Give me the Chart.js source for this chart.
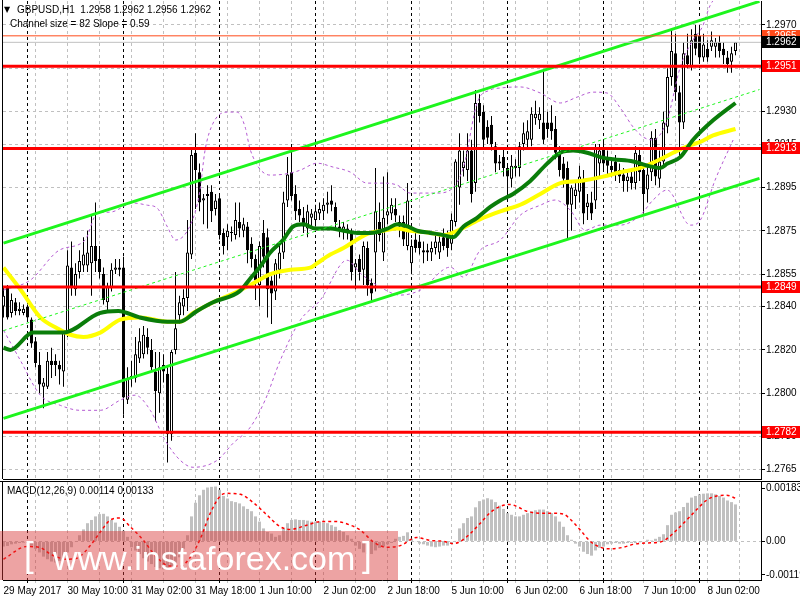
<!DOCTYPE html>
<html><head><meta charset="utf-8">
<script src="https://cdn.jsdelivr.net/npm/chart.js@4.4.1/dist/chart.umd.min.js"></script>
<style>
html,body{margin:0;padding:0;background:#fff;}
#wrap{position:relative;width:800px;height:600px;overflow:hidden;background:#fff;font-family:'Liberation Sans',Arial,sans-serif;}
canvas{position:absolute;left:0;}
#main{top:0;}
#macd{top:480px;}
.t{position:absolute;font-size:10px;color:#000;white-space:pre;line-height:12px;}
#wm{position:absolute;left:0;top:531px;width:398px;height:49px;background:rgba(215,50,50,0.45);color:#fff;}
#wm span{position:absolute;white-space:pre;}
</style></head><body>
<div id="wrap">
<canvas id="main" width="800" height="480"></canvas>
<canvas id="macd" width="800" height="120"></canvas>
<div class="t" style="left:4px;top:4px;font-size:8px;font-family:'DejaVu Sans'">▼</div>
<div class="t" style="left:17px;top:4px">GBPUSD,H1  1.2958 1.2962 1.2956 1.2962</div>
<div class="t" style="left:10px;top:18px">Channel size = 82 Slope = 0.59</div>
<div class="t" style="left:7px;top:485px">MACD(12,26,9) 0.00114 0.00133</div>
<div id="wm">
  <span style="left:24px;top:6px;font-size:35px;line-height:35px">[</span>
  <span style="left:53px;top:10px;font-size:34px;line-height:34px">www.instaforex.com</span>
  <span style="left:362px;top:6px;font-size:35px;line-height:35px">]</span>
</div>
</div>
<script>
// ---------- DATA ----------
const opens = [
1.2840,1.2849,1.2837,1.2842,1.2838,1.2837,1.2840,1.2834,1.2824,1.2813,
1.2803,1.2803,1.2815,1.2815,1.2813,1.2810,1.2827,1.2858,1.2848,1.2856,
1.2859,1.2859,1.2860,1.2868,1.2862,1.2855,1.2842,1.2849,1.2857,1.2858,
1.2858,1.2797,1.2807,1.2807,1.2816,1.2818,1.2826,1.2820,1.2810,1.2800,
1.2813,1.2809,1.2781,1.2820,1.2836,1.2840,1.2844,1.2864,1.2911,1.2902,
1.2889,1.2891,1.2893,1.2885,1.2890,1.2874,1.2872,1.2874,1.2873,1.2879,
1.2875,1.2877,1.2869,1.2862,1.2850,1.2874,1.2872,1.2852,1.2847,1.2857,
1.2865,1.2889,1.2902,1.2892,1.2885,1.2881,1.2876,1.2881,1.2880,1.2883,
1.2884,1.2887,1.2889,1.2886,1.2877,1.2875,1.2876,1.2874,1.2858,1.2862,
1.2857,1.2867,1.2851,1.2865,1.2879,1.2865,1.2882,1.2883,1.2885,1.2877,
1.2879,1.2868,1.2860,1.2871,1.2870,1.2866,1.2866,1.2865,1.2867,1.2865,
1.2872,1.2872,1.2869,1.2879,1.2895,1.2904,1.2903,1.2912,1.2897,1.2934,
1.2930,1.2923,1.2924,1.2914,1.2906,1.2909,1.2904,1.2899,1.2904,1.2904,
1.2915,1.2917,1.2917,1.2927,1.2926,1.2925,1.2925,1.2925,1.2922,1.2911,
1.2906,1.2904,1.2887,1.2891,1.2893,1.2898,1.2886,1.2888,1.2889,1.2906,
1.2913,1.2908,1.2905,1.2907,1.2903,1.2901,1.2898,1.2900,1.2897,1.2910,
1.2903,1.2894,1.2902,1.2918,1.2899,1.2907,1.2923,1.2946,1.2957,1.2939,
1.2925,1.2956,1.2951,1.2966,1.2965,1.2955,1.2959,1.2960,1.2960,1.2962,
1.2959,1.2955,1.2953,1.2958];
const highs = [
1.2849,1.2850,1.2846,1.2844,1.2842,1.2841,1.2841,1.2835,1.2826,1.2819,
1.2807,1.2819,1.2821,1.2818,1.2815,1.2829,1.2866,1.2870,1.2860,1.2866,
1.2872,1.2875,1.2882,1.2888,1.2868,1.2858,1.2851,1.2860,1.2862,1.2862,
1.2863,1.2812,1.2815,1.2826,1.2830,1.2831,1.2830,1.2825,1.2819,1.2819,
1.2818,1.2812,1.2820,1.2856,1.2845,1.2848,1.2880,1.2913,1.2920,1.2906,
1.2892,1.2896,1.2896,1.2892,1.2891,1.2876,1.2878,1.2877,1.2888,1.2888,
1.2881,1.2879,1.2872,1.2864,1.2870,1.2880,1.2876,1.2854,1.2862,1.2868,
1.2893,1.2909,1.2915,1.2896,1.2889,1.2886,1.2887,1.2885,1.2887,1.2888,
1.2890,1.2893,1.2896,1.2888,1.2880,1.2879,1.2878,1.2876,1.2862,1.2864,
1.2870,1.2870,1.2853,1.2904,1.2888,1.2900,1.2902,1.2890,1.2890,1.2882,
1.2882,1.2897,1.2871,1.2875,1.2873,1.2870,1.2869,1.2870,1.2873,1.2874,
1.2876,1.2875,1.2883,1.2908,1.2920,1.2912,1.2920,1.2917,1.2940,1.2938,
1.2933,1.2926,1.2928,1.2916,1.2910,1.2913,1.2906,1.2910,1.2908,1.2916,
1.2925,1.2926,1.2932,1.2935,1.2932,1.2949,1.2930,1.2933,1.2928,1.2914,
1.2909,1.2907,1.2896,1.2897,1.2905,1.2903,1.2892,1.2893,1.2915,1.2915,
1.2916,1.2912,1.2908,1.2910,1.2906,1.2904,1.2902,1.2903,1.2914,1.2913,
1.2906,1.2905,1.2921,1.2922,1.2912,1.2930,1.2950,1.2968,1.2966,1.2942,
1.2962,1.2966,1.2968,1.2970,1.2969,1.2966,1.2963,1.2967,1.2964,1.2965,
1.2962,1.2958,1.2960,1.2962];
const lows = [
1.2835,1.2834,1.2835,1.2836,1.2836,1.2836,1.2833,1.2821,1.2812,1.2800,
1.2793,1.2802,1.2807,1.2808,1.2804,1.2803,1.2826,1.2845,1.2845,1.2853,
1.2856,1.2856,1.2845,1.2856,1.2853,1.2841,1.2838,1.2847,1.2855,1.2854,
1.2790,1.2795,1.2803,1.2805,1.2814,1.2816,1.2818,1.2810,1.2787,1.2791,
1.2805,1.2768,1.2778,1.2818,1.2832,1.2836,1.2838,1.2862,1.2885,1.2884,
1.2878,1.2876,1.2879,1.2882,1.2871,1.2864,1.2866,1.2870,1.2871,1.2872,
1.2872,1.2860,1.2858,1.2843,1.2840,1.2858,1.2835,1.2832,1.2843,1.2853,
1.2862,1.2886,1.2889,1.2880,1.2879,1.2874,1.2872,1.2877,1.2877,1.2880,
1.2880,1.2883,1.2884,1.2876,1.2872,1.2871,1.2871,1.2852,1.2848,1.2852,
1.2850,1.2845,1.2842,1.2847,1.2870,1.2861,1.2878,1.2880,1.2879,1.2872,
1.2868,1.2866,1.2856,1.2865,1.2864,1.2860,1.2861,1.2861,1.2864,1.2862,
1.2866,1.2863,1.2866,1.2877,1.2887,1.2900,1.2898,1.2888,1.2893,1.2925,
1.2913,1.2915,1.2912,1.2902,1.2903,1.2900,1.2892,1.2895,1.2900,1.2900,
1.2912,1.2913,1.2914,1.2924,1.2922,1.2915,1.2918,1.2917,1.2908,1.2900,
1.2895,1.2871,1.2875,1.2885,1.2888,1.2878,1.2880,1.2880,1.2885,1.2900,
1.2903,1.2900,1.2900,1.2898,1.2897,1.2893,1.2893,1.2894,1.2894,1.2898,
1.2883,1.2888,1.2898,1.2896,1.2895,1.2904,1.2920,1.2942,1.2935,1.2908,
1.2922,1.2950,1.2949,1.2956,1.2952,1.2953,1.2953,1.2958,1.2955,1.2955,
1.2952,1.2948,1.2948,1.2956];
const closes = [
1.2845,1.2835,1.2843,1.2838,1.2839,1.2839,1.2835,1.2823,1.2814,1.2804,
1.2805,1.2815,1.2813,1.2813,1.2811,1.2828,1.2859,1.2849,1.2855,1.2861,
1.2864,1.2865,1.2868,1.2861,1.2856,1.2843,1.2849,1.2857,1.2858,1.2857,
1.2798,1.2807,1.2808,1.2818,1.2824,1.2827,1.2821,1.2812,1.2801,1.2812,
1.2810,1.2781,1.2819,1.2830,1.2842,1.2844,1.2865,1.2910,1.2903,1.2888,
1.2890,1.2892,1.2884,1.2889,1.2873,1.2868,1.2875,1.2874,1.2880,1.2876,
1.2878,1.2866,1.2862,1.2852,1.2868,1.2863,1.2848,1.2846,1.2860,1.2865,
1.2888,1.2901,1.2891,1.2884,1.2882,1.2877,1.2884,1.2883,1.2884,1.2885,
1.2887,1.2888,1.2887,1.2879,1.2875,1.2877,1.2874,1.2856,1.2860,1.2856,
1.2868,1.2850,1.2846,1.2884,1.2873,1.2881,1.2884,1.2887,1.2882,1.2879,
1.2871,1.2889,1.2868,1.2867,1.2867,1.2865,1.2865,1.2867,1.2870,1.2870,
1.2868,1.2867,1.2880,1.2907,1.2912,1.2907,1.2912,1.2892,1.2934,1.2928,
1.2917,1.2918,1.2915,1.2906,1.2907,1.2904,1.2900,1.2905,1.2905,1.2914,
1.2920,1.2921,1.2929,1.2929,1.2929,1.2917,1.2922,1.2921,1.2911,1.2903,
1.2899,1.2887,1.2895,1.2894,1.2900,1.2883,1.2888,1.2883,1.2913,1.2912,
1.2906,1.2905,1.2903,1.2902,1.2900,1.2898,1.2900,1.2897,1.2911,1.2902,
1.2892,1.2901,1.2918,1.2900,1.2907,1.2925,1.2946,1.2958,1.2939,1.2925,
1.2957,1.2952,1.2963,1.2959,1.2955,1.2961,1.2955,1.2963,1.2962,1.2958,
1.2956,1.2952,1.2957,1.2962];

// moving averages [barIndex, price]
const maGreen = [[0,1.2821],[1.7,1.2820],[7.4,1.2828],[15,1.2828],[24,1.2837],[28.7,1.2838],[34,1.2835],[41,1.2833],[44,1.2833],[48.4,1.2838],[52.4,1.2842],[59,1.2847],[61.7,1.2853],[64,1.2858],[66.7,1.2865],[70,1.2871],[72.4,1.2877],[75,1.2878],[78,1.2876],[81.7,1.2876],[85,1.2875],[88.4,1.2874],[91.7,1.2874],[96,1.2876],[98.4,1.2878],[101,1.2877],[103.4,1.2875],[106.7,1.2874],[110,1.2873],[112.4,1.2872],[115,1.2877],[118.4,1.2881],[121.7,1.2886],[124.2,1.2889],[127.4,1.2892],[131.7,1.2898],[135.9,1.2906],[139.2,1.2911],[142.4,1.2912],[145.9,1.2911],[149.2,1.2909],[152.4,1.2908],[157.4,1.2907],[161,1.2905],[164.2,1.2904],[166,1.2906],[169.2,1.2909],[172.4,1.2917],[177.4,1.2926],[183,1.2934]];
const maYellow = [[0,1.2858],[4.2,1.2848],[9.2,1.2835],[13.4,1.2830],[16.7,1.2827],[20,1.2826],[24.2,1.2828],[29.2,1.2834],[34.2,1.2835],[41,1.2833],[44.2,1.2833],[47.4,1.2837],[52.4,1.2842],[57.4,1.2846],[61.7,1.2850],[66.7,1.2855],[71.7,1.2857],[76.7,1.2858],[78.4,1.2860],[81.7,1.2864],[85,1.2867],[88.4,1.2871],[91.7,1.2874],[95,1.2875],[98.4,1.2876],[101.7,1.2875],[106.7,1.2874],[110,1.2873],[113.4,1.2875],[116.7,1.2878],[120,1.2881],[124.2,1.2884],[129.2,1.2887],[134.2,1.2892],[139.2,1.2897],[144.2,1.2898],[149.9,1.2900],[154.2,1.2902],[159.2,1.2904],[164.2,1.2908],[167.4,1.2911],[170.9,1.2914],[174.2,1.2916],[177.4,1.2919],[183,1.2922]];
// band lines [barIndex, price]
const bandUpper = [[0,1.28476],[6.7,1.28522],[14,1.28661],[20.4,1.28707],[23.4,1.28831],[26.7,1.28836],[32.4,1.28878],[36,1.28868],[38.4,1.28855],[41,1.28767],[43,1.28707],[46.7,1.28776],[49,1.28924],[50.4,1.29123],[52.4,1.29247],[56,1.29298],[58.4,1.29298],[60.4,1.29229],[61.7,1.29123],[66.7,1.29007],[71.7,1.29016],[74.2,1.29030],[78.4,1.29062],[82.4,1.29044],[86.7,1.29021],[90.9,1.28970],[94.9,1.28970],[98.4,1.28961],[101.7,1.28924],[108.4,1.28924],[111.7,1.28938],[115,1.29044],[118.4,1.29340],[121.7,1.29400],[124.2,1.29409],[129.2,1.29414],[134.2,1.29386],[139.2,1.29340],[143.4,1.29367],[147.4,1.29390],[150.9,1.29386],[154.2,1.29317],[157.4,1.29229],[159.9,1.29183],[162.4,1.29169],[165.9,1.29261],[169.2,1.29506],[172.4,1.29631],[174.7,1.29691],[176.7,1.29792],[183.2,1.29908]];
const bandLower = [[0,1.28291],[4.2,1.28152],[9.2,1.27991],[14.2,1.27944],[19.2,1.27921],[24.2,1.27921],[29.2,1.27968],[32.9,1.27991],[36.7,1.27921],[40.4,1.27783],[44.2,1.27690],[47.4,1.27658],[53.4,1.27690],[57.4,1.27769],[61.7,1.27843],[65.4,1.27968],[69.2,1.28152],[74.2,1.28337],[79.2,1.28430],[85.9,1.28614],[89.2,1.28554],[93.4,1.28499],[99.2,1.28453],[104.2,1.28476],[111.7,1.28582],[115,1.28536],[119.2,1.28661],[124.2,1.28707],[129.2,1.28822],[134.2,1.28868],[137.9,1.28892],[141.7,1.28845],[145.4,1.28753],[149.2,1.28776],[154.2,1.28776],[159.2,1.28822],[162.4,1.28892],[165.9,1.28938],[171.7,1.28776],[174.2,1.28799],[177.9,1.28984],[182.4,1.29169]];
// regression channel [barIndex, price]
const channelUpper = [[0,1.28693],[189,1.29809]];
const channelMid   = [[0,1.28289],[189,1.29402]];
const channelLower = [[0,1.27884],[189,1.28992]];
const levelLines = [1.2951, 1.2913, 1.2849, 1.2782];
const askLevel = 1.2965;
const bidLevel = 1.2962;
const priceTicks = [1.2970,1.2950,1.2930,1.2915,1.2895,1.2875,1.2855,1.2840,1.2820,1.2800,1.2780,1.2765];

const macdHist = [
-0.00016,-0.00014,-0.00009,-0.00007,-0.00005,-0.00004,-0.00005,-0.00013,-0.00023,-0.00034,
-0.00047,-0.00055,-0.00062,-0.00065,-0.0006,-0.00052,-0.00034,-0.00018,-0.00002,0.00019,
0.00037,0.00056,0.00066,0.00077,0.00084,0.00085,0.00077,0.00066,0.00058,0.00045,
0.00033,0.00014,-0.00018,-0.00028,-0.00039,-0.00052,-0.00062,-0.0007,-0.00079,-0.00083,
-0.00086,-0.00081,-0.00076,-0.00065,-0.00049,-0.00023,0.00019,0.00077,0.00119,0.00142,
0.00159,0.00166,0.00168,0.00169,0.00159,0.0014,0.00132,0.00124,0.00121,0.00117,
0.00108,0.001,0.00093,0.00077,0.00061,0.0004,0.00029,0.00024,0.00014,0.00019,
0.0004,0.00056,0.00066,0.00068,0.00066,0.00066,0.00064,0.00061,0.00061,0.00061,
0.00058,0.00056,0.0005,0.00045,0.00035,0.00029,0.00019,0.00008,-0.00013,-0.00023,
-0.00034,-0.00039,-0.00039,-0.00028,-0.0002,-0.00016,-0.00009,-0.00005,0.00008,0.00014,
0.00017,0.00028,0.00008,-0.00002,-0.00007,-0.00009,-0.00013,-0.00016,-0.00018,-0.00016,
-0.00013,-0.00013,-0.00007,0.00001,0.0004,0.00056,0.00072,0.00077,0.00105,0.00124,
0.00129,0.00133,0.00129,0.00121,0.0011,0.001,0.00087,0.00082,0.00077,0.00077,
0.00082,0.00087,0.00093,0.00096,0.00098,0.00098,0.00093,0.00087,0.00077,0.00061,
0.00045,0.00019,0.00005,-0.00007,-0.00016,-0.00032,-0.00039,-0.00044,-0.00028,-0.0002,
-0.00016,-0.00009,-0.00007,-0.00005,-0.00007,-0.00007,-0.00005,-0.00005,-0.00005,-0.00003,
-0.00002,0.00005,0.00003,0.00008,0.00014,0.00022,0.0005,0.00082,0.00089,0.00093,
0.00106,0.00119,0.00135,0.0014,0.00145,0.00147,0.00148,0.00148,0.00145,0.0014,
0.00135,0.00126,0.00121,0.00114];
const macdSignal = [[0,-0.00055],[5.8,-0.00016],[9,-0.00018],[11.7,-0.00039],[15.8,-0.00055],[18.3,-0.00052],[21.7,-0.00013],[24.2,0.00029],[26.7,0.00066],[29.2,0.00072],[31.7,0.00045],[35,0.00003],[38.3,-0.00049],[41.7,-0.00076],[44.2,-0.00076],[46.7,-0.00049],[49.2,0.00008],[51.7,0.00087],[54.2,0.0014],[55.8,0.00148],[59.2,0.00145],[62.5,0.00119],[65.8,0.00082],[69.2,0.00045],[71.7,0.00037],[75.8,0.0005],[79.2,0.00061],[83.3,0.00061],[86.7,0.0005],[89.2,0.00035],[92.5,-0.00002],[95.8,-0.00018],[99.2,-0.00013],[103.3,0.00012],[106.7,0.00003],[110,0],[112.5,-0.00007],[114.2,0],[116.7,0.00024],[119.2,0.00056],[121.7,0.00089],[124.2,0.00108],[126.7,0.00114],[128.3,0.00108],[130.8,0.00093],[134.2,0.00087],[137.5,0.00087],[140,0.00084],[141.7,0.00068],[144.2,0.00035],[146.7,0],[149.2,-0.00018],[151.7,-0.00023],[155,-0.00018],[157.5,-0.00009],[160.8,-0.00005],[164.2,-0.00002],[165.8,0.00008],[168.3,0.00035],[170.8,0.00066],[173.3,0.00098],[175.8,0.00127],[178.3,0.0014],[180.8,0.00142],[183,0.00133]];
const macdMax = 0.00183, macdMin = -0.00119;
const macdTickLabels = ['0.00183','0.00','-0.00119'];

const timeLabelIdx = [0,16,32,48,64,80,96,112,128,144,160,176];
const timeLabels = ['29 May 2017','30 May 10:00','31 May 02:00','31 May 18:00','1 Jun 10:00','2 Jun 02:00','2 Jun 18:00','5 Jun 10:00','6 Jun 02:00','6 Jun 18:00','7 Jun 10:00','8 Jun 02:00'];
const daySeparators = [6,30,54,78,102,126,150,174];
const gridStep = 8;

// ---------- HELPERS ----------
const X_MIN = -0.125, X_MAX = 189.375;
const Y_MIN = 1.276039, Y_MAX = 1.298108;
Chart.defaults.font.family = "'Liberation Sans', Arial, sans-serif";
Chart.defaults.font.size = 10;
Chart.defaults.color = '#000';

function pts(arr){ return arr.map(p => ({x:p[0], y:p[1]})); }
function noPad(s){ s.paddingTop = 0; s.paddingBottom = 0; s.paddingLeft = 0; s.paddingRight = 0; }
function xTickList(){
  const s = new Set();
  for (let i = gridStep; i <= X_MAX; i += gridStep) s.add(i);
  daySeparators.forEach(d => s.add(d));
  timeLabelIdx.forEach(d => s.add(d));
  return [...s].sort((a,b)=>a-b).map(v => ({value:v}));
}
function vGridColor(ctx){
  const v = ctx.tick ? ctx.tick.value : -1;
  if (daySeparators.includes(v)) return '#000';
  if (v === 0) return 'rgba(0,0,0,0)';
  return '#c0c0c0';
}
const labelMap = {};
timeLabelIdx.forEach((v,i)=> labelMap[v] = timeLabels[i]);

const lineDs = (data, color, width, dash, order, extra) => Object.assign({
  type:'line', data: pts(data), borderColor: color, borderWidth: width, borderDash: dash || [],
  pointRadius: 0, fill: false, order: order, cubicInterpolationMode: 'monotone'
}, extra || {});

const bodyData = opens.map((o,i) => {
  let c = closes[i];
  if (Math.abs(c - o) < 0.00004) c = o + 0.00004;
  return {x:i, y:[o, c]};
});
const bodyColors = opens.map((o,i) => closes[i] >= o ? '#ffffff' : '#000000');
const wickData = highs.map((h,i) => ({x:i, y:[lows[i], h]}));

const mainDatasets = [
  {type:'bar', data: wickData, backgroundColor:'#000', borderWidth:0, barThickness:1, grouped:false, inflateAmount:0, order:21},
  {type:'bar', data: bodyData, backgroundColor: bodyColors, borderColor:'#000', borderWidth:1, borderSkipped:false, barThickness:3, grouped:false, inflateAmount:0, order:20},
  lineDs(bandUpper, '#b45ad2', 1, [3,3], 15),
  lineDs(bandLower, '#b45ad2', 1, [3,3], 15),
  lineDs(maYellow, '#ffff00', 4, [], 12),
  lineDs(maGreen, '#0a7d0a', 4, [], 11),
  lineDs(channelMid, '#1df51d', 1, [3,3], 10),
  lineDs(channelUpper, '#1df51d', 3, [], 9),
  lineDs(channelLower, '#1df51d', 3, [], 9),
  lineDs([[X_MIN,bidLevel],[X_MAX,bidLevel]], '#c0c0c0', 1, [], 8),
  lineDs([[X_MIN,askLevel],[X_MAX,askLevel]], '#ff4a1a', 1, [], 7),
];
levelLines.forEach(v => mainDatasets.push(lineDs([[X_MIN,v],[X_MAX,v]], '#ff0000', 3, [], 5)));

const mainDecor = {
  id:'mainDecor',
  afterDraw(chart){
    const {ctx, chartArea:a, scales:{y}} = chart;
    ctx.save();
    ctx.strokeStyle = '#000'; ctx.lineWidth = 1;
    ctx.beginPath(); ctx.moveTo(a.left - 0.5, 0); ctx.lineTo(a.left - 0.5, a.bottom); ctx.stroke();
    ctx.font = "10px 'Liberation Sans', Arial, sans-serif";
    ctx.textBaseline = 'middle'; ctx.textAlign = 'left';
    const boxes = [[askLevel,'#ff4a1a','#fff'],[bidLevel,'#000','#fff']].concat(levelLines.map(v => [v,'#ff0000','#fff']));
    boxes.forEach(([v,bg,fg]) => {
      const py = Math.round(y.getPixelForValue(v));
      ctx.fillStyle = bg; ctx.fillRect(a.right + 1, py - 6, 38, 12);
      ctx.fillStyle = fg; ctx.fillText(v.toFixed(4), a.right + 5, py + 0.5);
    });
    ctx.restore();
  }
};

new Chart(document.getElementById('main'), {
  type:'bar',
  data:{datasets: mainDatasets},
  options:{
    responsive:false, animation:false, devicePixelRatio:1, events:[],
    layout:{padding:{left:3, top:1, right:0, bottom:1}},
    plugins:{legend:{display:false}, tooltip:{enabled:false}},
    scales:{
      x:{type:'linear', min:X_MIN, max:X_MAX, offset:false,
         afterBuildTicks: s => { s.ticks = xTickList(); },
         afterFit: s => { s.height = 0; noPad(s); },
         ticks:{display:false},
         grid:{color: vGridColor, offset:false, drawTicks:false, lineWidth:1},
         border:{display:true, color:'#000', width:1, dash:[3,3]}},
      y:{position:'right', min:Y_MIN, max:Y_MAX,
         afterBuildTicks: s => { s.ticks = priceTicks.map(v => ({value:v})); },
         afterFit: s => { s.width = 39; noPad(s); },
         ticks:{callback: v => Number(v).toFixed(4), padding:1, font:{size:10}, color:'#000'},
         grid:{color:'#c0c0c0', tickColor:'#000', tickLength:4, drawTicks:true},
         border:{display:true, color:'#000', width:1, dash:[3,3]}}
    }
  },
  plugins:[mainDecor]
});

const macdDecor = {
  id:'macdDecor',
  afterDraw(chart){
    const {ctx, chartArea:a} = chart;
    ctx.save();
    ctx.strokeStyle = '#000'; ctx.lineWidth = 1;
    ctx.beginPath();
    ctx.moveTo(0, a.top - 0.5); ctx.lineTo(800, a.top - 0.5);
    ctx.moveTo(a.left - 0.5, a.top); ctx.lineTo(a.left - 0.5, a.bottom);
    ctx.stroke();
    ctx.restore();
  }
};

new Chart(document.getElementById('macd'), {
  type:'bar',
  data:{datasets:[
    lineDs(macdSignal, '#ff0000', 1.5, [3,3], 1),
    {type:'bar', data: macdHist.map((v,i) => ({x:i, y:v})), backgroundColor:'#c0c0c0', borderWidth:0, barThickness:3, grouped:false, inflateAmount:0, order:2}
  ]},
  options:{
    responsive:false, animation:false, devicePixelRatio:1, events:[],
    layout:{padding:{left:3, top:2, right:0, bottom:0}},
    plugins:{legend:{display:false}, tooltip:{enabled:false}},
    scales:{
      x:{type:'linear', min:X_MIN, max:X_MAX, offset:false,
         afterBuildTicks: s => { s.ticks = xTickList(); },
         afterFit: s => { s.height = 20; noPad(s); },
         ticks:{autoSkip:false, maxRotation:0, minRotation:0, align:'start', padding:2,
                callback: v => (labelMap[v] !== undefined ? labelMap[v] : ''), font:{size:10}, color:'#000'},
         grid:{color: vGridColor, tickColor: vGridColor, offset:false, drawTicks:true, tickLength:3},
         border:{display:true, color:'#000', width:1, dash:[3,3]}},
      y:{position:'right', min:macdMin, max:macdMax,
         afterBuildTicks: s => {
           const r = macdMax - macdMin;
           s.ticks = [{value: macdMax - r*6/96}, {value:0}, {value: macdMin + r*5/96}];
         },
         afterFit: s => { s.width = 39; noPad(s); },
         ticks:{callback: (v,i) => macdTickLabels[i], padding:1, font:{size:10}, color:'#000'},
         grid:{color: c => (c.tick && c.tick.value === 0 ? '#c0c0c0' : 'rgba(0,0,0,0)'), tickColor:'#000', tickLength:4},
         border:{display:true, color:'#000', width:1, dash:[3,3]}}
    }
  },
  plugins:[macdDecor]
});
</script>
</body></html>
